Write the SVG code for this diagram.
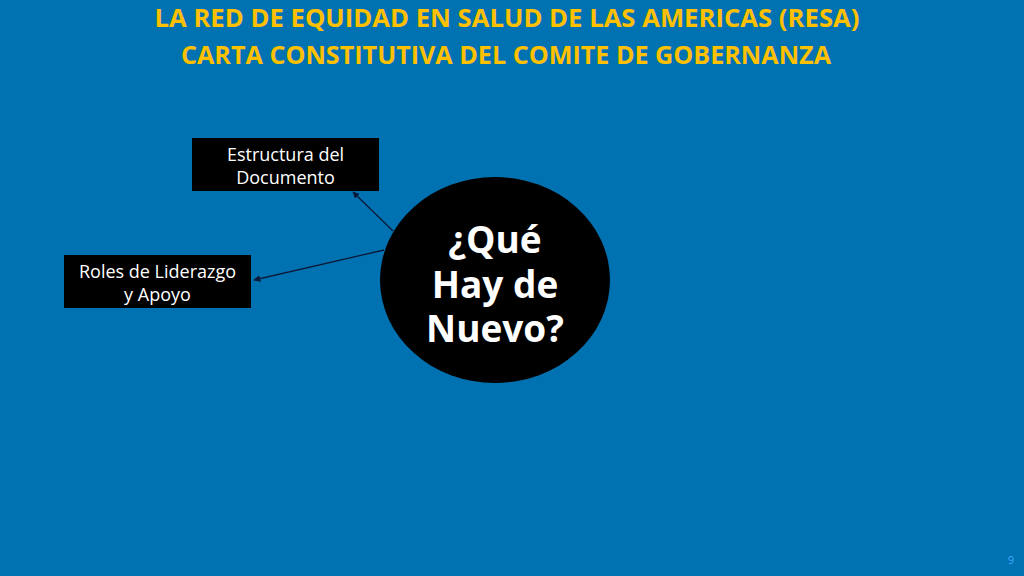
<svg xmlns="http://www.w3.org/2000/svg" width="1024" height="576" viewBox="0 0 1024 576">
<defs>
<style>
.title{font-family:"Open Sans","Noto Sans",sans-serif;font-weight:bold;font-size:25px;fill:#FFC000;text-anchor:middle}
.box{fill:#000}
.lbl{font-family:"Open Sans","Noto Sans",sans-serif;font-size:18px;fill:#fff;text-anchor:middle}
.big{font-family:"Open Sans","Noto Sans",sans-serif;font-weight:bold;font-size:37px;fill:#fff;text-anchor:middle}
.conn{stroke:#0a1a3a;stroke-width:1.3;fill:none;marker-end:url(#ah)}
</style>
<marker id="ah" viewBox="0 0 10 10" refX="9" refY="5" markerWidth="7" markerHeight="7" orient="auto" markerUnits="userSpaceOnUse">
<path d="M0,0 L10,5 L0,10 z" fill="#0a1a3a"/>
</marker>
</defs>
<rect x="0" y="0" width="1024" height="576" fill="#0072B2"/>
<text class="title" x="507" y="27" textLength="705" lengthAdjust="spacingAndGlyphs">LA RED DE EQUIDAD EN SALUD DE LAS AMERICAS (RESA)</text>
<text class="title" x="506" y="64" textLength="650" lengthAdjust="spacingAndGlyphs">CARTA CONSTITUTIVA DEL COMITE DE GOBERNANZA</text>
<g id="connectors">
<line class="conn" x1="393" y1="231" x2="353" y2="192"/>
<line class="conn" x1="384" y1="250" x2="254" y2="280"/>
</g>
<g id="node-estructura">
<rect class="box" x="192" y="138" width="187" height="53"/>
<text class="lbl" x="285.5" y="161">Estructura del</text>
<text class="lbl" x="285.5" y="184">Documento</text>
</g>
<g id="node-roles">
<rect class="box" x="64" y="255" width="187" height="53"/>
<text class="lbl" x="157.5" y="278">Roles de Liderazgo</text>
<text class="lbl" x="157.5" y="301">y Apoyo</text>
</g>
<g id="node-center">
<ellipse cx="495" cy="280" rx="115" ry="103" fill="#000"/>
<text class="big" x="495" y="253">¿Qué</text>
<text class="big" x="495" y="298">Hay de</text>
<text class="big" x="495" y="342">Nuevo?</text>
</g>
<text x="1011" y="564" font-family="Open Sans, sans-serif" font-size="11" fill="#3FA9F5" text-anchor="middle">9</text>
</svg>
